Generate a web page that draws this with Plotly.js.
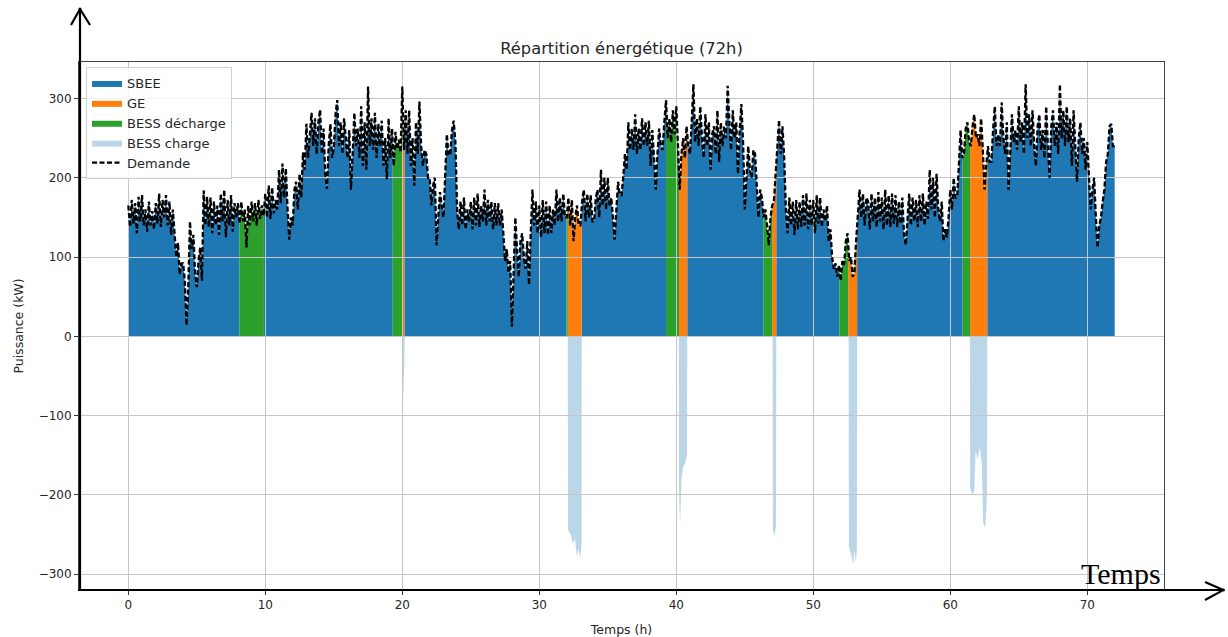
<!DOCTYPE html>
<html>
<head>
<meta charset="utf-8">
<script src="https://cdn.plot.ly/plotly-3.0.1.min.js"></script>
<style>html,body{margin:0;padding:0;background:#fff;}#chart{width:1228px;height:637px;}</style>
</head>
<body>
<div id="chart"></div>
<script>
// ---- data ----
const STEP_H = 0.125; // sampling step of the demand series (hours)
const demande = [
  165,138,172,142,168,130,176,145,  178,140,160,132,170,140,158,135,
  168,142,180,138,172,150,178,140,  170,128,160,132,100,118,78,92,
  92,70,14,60,145,110,128,80,       62,95,112,70,184,140,176,138,
  175,130,170,140,165,128,180,145,  185,125,172,140,178,132,168,150,
  168,142,170,145,160,112,165,140,  170,145,168,140,172,148,165,152,
  180,150,190,148,188,155,172,160,  210,168,218,175,212,160,122,150,
  140,185,195,160,205,175,232,210,  268,225,250,282,240,275,230,270,
  286,230,262,205,186,240,268,225,  238,280,298,240,270,230,275,245,
  225,260,185,230,282,240,262,225,  290,215,270,210,315,240,275,235,
  282,225,268,240,272,215,250,198,  275,225,262,215,258,236,248,232,
  315,235,285,230,285,215,250,190,  270,230,296,240,215,235,230,200,
  200,165,190,200,115,150,182,165,  150,200,255,228,230,260,272,245,
  160,135,170,140,175,135,160,145,  170,135,175,140,180,138,165,145,
  185,140,172,145,170,135,168,140,  168,140,160,130,95,110,80,95,
  12,80,150,110,75,120,130,100,     85,120,65,130,185,140,170,130,
  165,125,172,130,170,128,165,130,  160,140,185,145,175,145,180,150,
  150,175,140,172,120,150,165,140,  140,170,185,145,180,150,178,145,
  145,175,185,150,210,165,200,160,  200,165,175,150,122,160,195,178,
  178,200,230,210,270,235,262,235,  280,230,262,235,275,240,270,240,
  272,215,260,225,185,230,262,240,  235,270,298,250,275,245,285,255,
  290,240,185,230,250,225,265,240,  230,270,318,245,275,240,290,250,
  225,280,240,270,210,255,265,230,  285,220,270,240,265,250,316,270,
  235,285,250,270,205,260,293,245,  160,200,240,210,200,235,230,190,
  150,185,175,150,160,140,115,150,  165,170,205,240,273,230,265,225,
  160,130,175,140,170,128,172,135,  170,138,178,140,180,135,172,140,
  172,130,178,142,175,138,160,145,  165,120,135,100,85,92,75,90,
  70,95,90,120,130,95,100,75,       80,120,155,185,150,180,140,175,
  170,135,180,145,175,138,182,145,  175,135,185,140,178,138,180,142,
  178,138,170,142,175,128,115,150,  180,140,175,145,172,138,178,145,
  180,140,170,148,210,160,200,150,  205,160,145,170,120,135,125,150,
  185,160,200,175,175,215,260,225,  230,262,270,245,240,265,280,250,
  255,240,275,235,185,215,240,220,  220,260,290,240,255,240,295,250,
  230,270,185,230,280,245,260,235,  290,245,270,230,318,250,280,240,
  285,240,215,265,280,235,260,225,  290,240,200,265,285,240,270,230,
  318,250,285,240,290,245,275,215,  285,240,195,250,270,230,250,210,
  245,200,160,185,200,150,112,140,  150,170,185,220,230,265,268,240,
  240
];
// periods (h) where the battery discharges (grid outage)
const bessDechargeDebut = [8.1, 19.3, 31.98, 39.25, 46.35, 51.9, 60.9];
const bessDechargeFin   = [9.9, 20.0, 32.08, 40.2, 47.0, 52.55, 61.45];
// periods (h) where the generator (GE) runs
const geDebut = [20.0, 32.08, 40.2, 47.0, 52.55, 61.45];
const geFin   = [20.15, 33.1, 40.8, 47.3, 53.2, 62.7];
// battery charge (negative power, kW)
const chargeTemps = [0,
  19.99,20.0,20.07,20.14,20.18,
  32.08,32.1,32.3,32.45,32.6,32.75,32.85,33.0,33.08,33.1,
  40.18,40.2,40.28,40.38,40.5,40.65,40.78,40.8,
  47.03,47.05,47.15,47.28,47.3,
  52.58,52.6,52.8,52.9,53.0,53.1,53.18,53.2,
  61.43,61.45,61.6,61.75,61.85,62.0,62.15,62.3,62.4,62.55,62.68,62.7,
  72];
const chargeValeurs = [0,
  0,-112,-85,-40,0,
  0,-245,-250,-262,-255,-278,-268,-280,-262,0,
  0,-200,-236,-180,-165,-160,-150,0,
  0,-245,-252,-240,0,
  0,-265,-278,-288,-270,-285,-270,0,
  0,-190,-200,-195,-145,-155,-140,-160,-235,-242,-200,0,
  0];

// ---- build traces ----
const temps = demande.map((_, i) => i * STEP_H);
function interp(t) {
  let i = Math.min(Math.floor(t / STEP_H + 1e-9), demande.length - 2);
  const f = (t - temps[i]) / STEP_H;
  return demande[i] + (demande[i + 1] - demande[i]) * f;
}
function source(t) {
  for (let k = 0; k < bessDechargeDebut.length; k++) if (t >= bessDechargeDebut[k] && t < bessDechargeFin[k]) return 'dis';
  for (let k = 0; k < geDebut.length; k++) if (t >= geDebut[k] && t < geFin[k]) return 'ge';
  return 'sbee';
}
const bounds = [...new Set([...bessDechargeDebut, ...bessDechargeFin, ...geDebut, ...geFin])];
const pts = [...new Set([...temps, ...bounds])].sort((a, b) => a - b);
function series(name) {
  const xs = [], ys = [];
  for (const p of pts) {
    if (bounds.includes(p)) {
      xs.push(p); ys.push(source(p - 1e-6) === name ? interp(p) : 0);
      xs.push(p); ys.push(source(p + 1e-6) === name ? interp(p) : 0);
    } else {
      xs.push(p); ys.push(source(p) === name ? interp(p) : 0);
    }
  }
  return { x: xs, y: ys };
}
const sS = series('sbee'), sG = series('ge'), sD = series('dis');
const areaBase = { type: 'scatter', mode: 'lines', fill: 'tozeroy', hoverinfo: 'skip', xaxis: 'x', yaxis: 'y' };
const traces = [
  Object.assign({}, areaBase, { name: 'SBEE', x: sS.x, y: sS.y, fillcolor: '#1f77b4', line: { width: 0, color: '#1f77b4' } }),
  Object.assign({}, areaBase, { name: 'GE', x: sG.x, y: sG.y, fillcolor: '#ff7f0e', line: { width: 0, color: '#ff7f0e' } }),
  Object.assign({}, areaBase, { name: 'BESS décharge', x: sD.x, y: sD.y, fillcolor: '#2ca02c', line: { width: 0, color: '#2ca02c' } }),
  Object.assign({}, areaBase, { name: 'BESS charge', x: chargeTemps, y: chargeValeurs, fillcolor: 'rgba(31,119,180,0.3)', line: { width: 0, color: 'rgba(31,119,180,0.3)' } }),
  { type: 'scatter', mode: 'lines', name: 'Demande', x: temps, y: demande, xaxis: 'x2', yaxis: 'y2',
    line: { color: '#000', width: 2.3, dash: '5px,2.5px' }, hoverinfo: 'skip' }
];

// ---- layout ----
const XR = [-3.6, 75.6], YR = [-320, 346];
const L = 79, T = 62, PW = 1085, PH = 528;
const px = v => (v - L) / PW, py = v => (T + PH - v) / PH;
const arrowLine = (x0, y0, x1, y1) => ({ type: 'line', xref: 'paper', yref: 'paper', x0: px(x0), y0: py(y0), x1: px(x1), y1: py(y1), line: { color: '#000', width: 2.2 }, layer: 'above' });
const axisCommon = {
  showgrid: true, gridcolor: '#c6c6c6', gridwidth: 1, zeroline: false,
  ticks: 'outside', ticklen: 4, tickwidth: 1, tickcolor: '#333',
  showline: true, mirror: true, linecolor: '#444', linewidth: 1,
  tickfont: { size: 12, color: '#262626' }
};
const layout = {
  width: 1228, height: 637,
  margin: { l: L, r: 1228 - L - PW, t: T, b: 637 - T - PH, pad: 0 },
  paper_bgcolor: '#fff', plot_bgcolor: 'rgba(0,0,0,0)',
  font: { family: 'DejaVu Sans, sans-serif', size: 12, color: '#262626' },
  showlegend: true,
  title: { text: 'Répartition énergétique (72h)', x: 0.5, xref: 'paper', xanchor: 'center', y: 1 - 48 / 637, yref: 'container', yanchor: 'middle', font: { size: 16.3, color: '#262626' } },
  xaxis: { range: XR, visible: false, domain: [0, 1] },
  yaxis: { range: YR, visible: false, domain: [0, 1] },
  xaxis2: Object.assign({}, axisCommon, { range: XR, domain: [0, 1], anchor: 'y2', tick0: 0, dtick: 10, title: { text: 'Temps (h)', font: { size: 12.5 } } }),
  yaxis2: Object.assign({}, axisCommon, { range: YR, domain: [0, 1], anchor: 'x2', tick0: 0, dtick: 100, title: { text: 'Puissance (kW)', font: { size: 12.5 }, standoff: 12 } }),
  legend: { x: px(86), y: py(67), xanchor: 'left', yanchor: 'top', bgcolor: 'rgba(255,255,255,0.8)', bordercolor: '#d0d0d0', borderwidth: 1, font: { size: 13, color: '#262626' }, traceorder: 'normal' },
  shapes: [
    arrowLine(80, 590, 80, 8),
    arrowLine(71, 25, 80.6, 8),
    arrowLine(90, 25, 79.4, 8),
    arrowLine(78, 590, 1224, 590),
    arrowLine(1205, 582, 1224.5, 590.6),
    arrowLine(1205, 600, 1224.5, 589.4)
  ],
  annotations: [
    { text: 'Temps', xref: 'paper', yref: 'paper', x: px(1163), y: py(573), xanchor: 'right', yanchor: 'middle', showarrow: false,
      font: { family: 'Liberation Serif, Times New Roman, serif', size: 30, color: '#000' } }
  ]
};
Plotly.newPlot('chart', traces, layout, { staticPlot: true, displayModeBar: false });
</script>
</body>
</html>
